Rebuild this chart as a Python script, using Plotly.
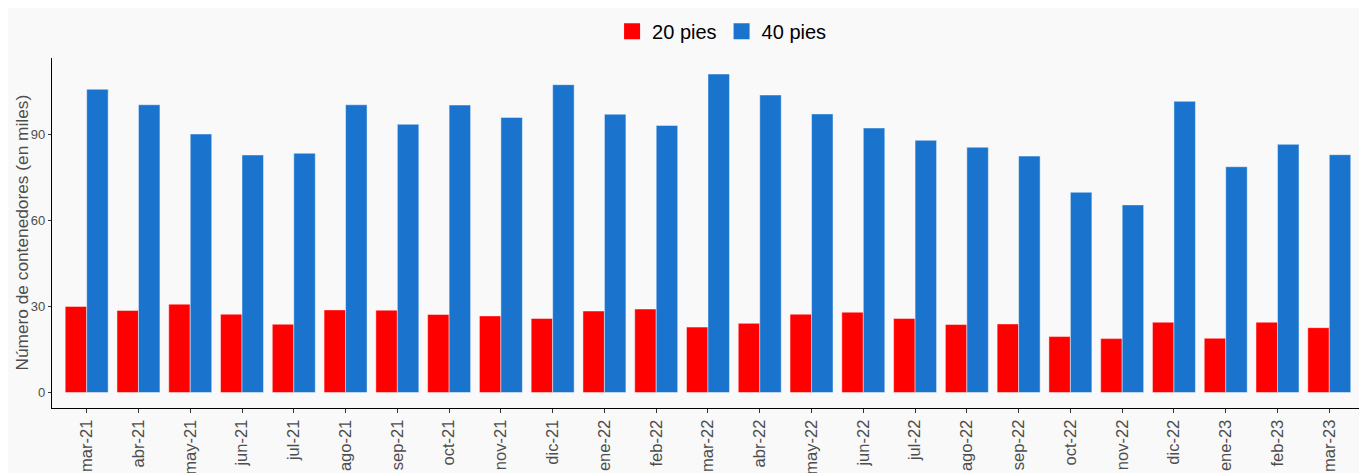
import plotly.graph_objects as go

months = ["mar-21", "abr-21", "may-21", "jun-21", "jul-21", "ago-21", "sep-21", "oct-21",
          "nov-21", "dic-21", "ene-22", "feb-22", "mar-22", "abr-22", "may-22", "jun-22",
          "jul-22", "ago-22", "sep-22", "oct-22", "nov-22", "dic-22", "ene-23", "feb-23", "mar-23"]
pies20 = [30.0, 28.6, 30.8, 27.3, 23.8, 28.8, 28.7, 27.2,
          26.7, 25.8, 28.4, 29.1, 22.8, 24.1, 27.3, 28.0,
          25.8, 23.7, 23.9, 19.5, 18.8, 24.5, 18.9, 24.5, 22.6]
pies40 = [105.7, 100.3, 90.1, 82.8, 83.4, 100.3, 93.5, 100.2,
          95.9, 107.3, 97.0, 93.1, 111.0, 103.7, 97.1, 92.2,
          87.9, 85.5, 82.4, 69.8, 65.4, 101.5, 78.7, 86.5, 82.9]
y_ticks = [0, 30, 60, 90]
series_names = ["20 pies", "40 pies"]
series_colors = ["#ff0000", "#1a74cd"]

fig = go.Figure()
for name, vals, col in zip(series_names, [pies20, pies40], series_colors):
    fig.add_trace(go.Bar(x=months, y=vals, name=name, showlegend=False,
                         marker=dict(color=col, line=dict(color="rgba(255,255,255,0.45)", width=1))))
# legend entries with larger square swatches
for name, col in zip(series_names, series_colors):
    fig.add_trace(go.Scatter(x=[None], y=[None], mode="markers", name=name,
                             marker=dict(symbol="square", size=16, color=col,
                                         line=dict(width=0))))

font_fam = "Liberation Sans, Arial, sans-serif"
fig.update_layout(
    width=1367, height=473,
    barmode="group", bargap=0.17, bargroupgap=0,
    paper_bgcolor="#f9f9f9", plot_bgcolor="#f9f9f9",
    margin=dict(l=44, r=10, t=50, b=73, autoexpand=False),
    font=dict(family=font_fam),
    showlegend=True,
    legend=dict(orientation="h", xref="container", yref="container",
                x=0.522, xanchor="center", y=0.951, yanchor="middle",
                font=dict(size=20, color="#000000"), traceorder="normal",
                bgcolor="rgba(0,0,0,0)", itemclick=False),
    xaxis=dict(type="category", range=[-0.67, 24.69], tickangle=-90,
               showline=True, linecolor="#000000", linewidth=1.2,
               ticks="outside", ticklen=4, tickcolor="#333333",
               tickfont=dict(size=16.5, color="#4d4d4d"), showgrid=False,
               automargin=False),
    yaxis=dict(range=[-5.4, 116.6], tickvals=y_ticks,
               showline=True, linecolor="#000000", linewidth=1.2,
               ticks="outside", ticklen=3, tickcolor="#333333",
               tickfont=dict(size=13, color="#4d4d4d"), showgrid=False, zeroline=False,
               automargin=False),
    annotations=[dict(text="Número de contenedores (en miles)", xref="paper", yref="paper",
                      x=-0.0232, y=0.5, xanchor="center", yanchor="middle", textangle=-90,
                      showarrow=False, font=dict(size=17.3, color="#4d4d4d"))],
)
fig.write_html("out.html")
